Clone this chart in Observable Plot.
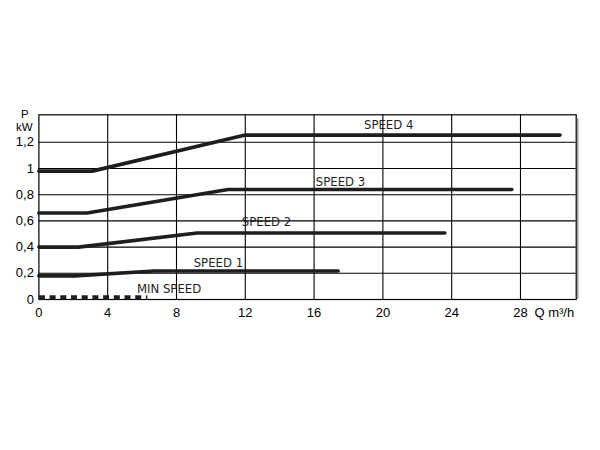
<!DOCTYPE html>
<html>
<head>
<meta charset="utf-8">
<script src="https://cdn.jsdelivr.net/npm/d3@7"></script>
<script src="https://cdn.jsdelivr.net/npm/@observablehq/plot@0.6"></script>
<style>
  html, body { margin: 0; padding: 0; background: white; }
</style>
</head>
<body>
<div id="chart"></div>
<script>
// Data
const Q_TICKS = [0, 4, 8, 12, 16, 20, 24, 28];
const P_TICKS = [0, 0.2, 0.4, 0.6, 0.8, 1.0, 1.2];
const P_TICK_LABELS = ["0", "0,2", "0,4", "0,6", "0,8", "1", "1,2"];

const speed4Q = [0, 3.1, 12.0, 30.3];
const speed4P = [0.98, 0.98, 1.255, 1.255];
const speed3Q = [0, 2.8, 11.0, 27.5];
const speed3P = [0.66, 0.66, 0.84, 0.84];
const speed2Q = [0, 2.3, 9.2, 23.6];
const speed2P = [0.40, 0.40, 0.508, 0.508];
const speed1Q = [0, 2.1, 6.7, 17.4];
const speed1P = [0.18, 0.18, 0.218, 0.218];
const minSpeedQ = [0, 6.3];
const minSpeedP = [0.016, 0.016];

const labelNames = ["SPEED 4", "SPEED 3", "SPEED 2", "SPEED 1", "MIN SPEED"];
const labelQ = [18.9, 16.1, 11.8, 9.0, 5.7];
const labelP = [1.33, 0.90, 0.59, 0.28, 0.085];

const series = [
  ["SPEED 4", speed4Q, speed4P],
  ["SPEED 3", speed3Q, speed3P],
  ["SPEED 2", speed2Q, speed2P],
  ["SPEED 1", speed1Q, speed1P]
];
const rows = series.flatMap(([name, qs, ps]) => qs.map((q, i) => ({series: name, q, p: ps[i]})));
const minRows = minSpeedQ.map((q, i) => ({q, p: minSpeedP[i]}));
const labels = labelNames.map((t, i) => ({t, q: labelQ[i], p: labelP[i]}));

const labelFont = "'Liberation Sans Narrow', 'DejaVu Sans Condensed', 'Liberation Sans', sans-serif";

const chart = Plot.plot({
  width: 600,
  height: 450,
  marginLeft: 38.4,
  marginRight: 24.3,
  marginTop: 114.3,
  marginBottom: 151,
  style: {fontFamily: "'Liberation Sans', Arial, sans-serif", fontSize: "13px", background: "white", color: "black"},
  x: {domain: [0, 31.24]},
  y: {domain: [0, 1.41]},
  marks: [
    Plot.ruleX(Q_TICKS.slice(1), {stroke: "black", strokeWidth: 1.1}),
    Plot.ruleY(P_TICKS.slice(1), {stroke: "black", strokeWidth: 1.1}),
    Plot.ruleX([31.24], {y1: 0, y2: 1.41, stroke: "#999", strokeWidth: 1.5, dx: 1.5, insetBottom: -4}),
    Plot.frame({stroke: "black", strokeWidth: 1.2}),
    Plot.line(rows, {x: "q", y: "p", z: "series", stroke: "#1e1e1e", strokeWidth: 3.6, strokeLinejoin: "round"}),
    Plot.line(minRows, {x: "q", y: "p", stroke: "#1e1e1e", strokeWidth: 4.5, strokeDasharray: "6,4.7", strokeLinecap: "butt"}),
    Plot.text(labels, {x: "q", y: "p", text: "t", textAnchor: "start", fontSize: 13, fontFamily: labelFont, fill: "#1e1e1e"}),
    Plot.axisX({ticks: Q_TICKS, tickSize: 0, tickPadding: 8, label: null, tickFormat: d => String(d)}),
    Plot.axisY({ticks: P_TICKS, tickSize: 0, tickPadding: 5, label: null, tickFormat: d => P_TICK_LABELS[P_TICKS.indexOf(d)]}),
    Plot.text(["Q m³/h"], {x: () => 28, y: () => 0, text: d => d, textAnchor: "start", dx: 14, dy: 13}),
    Plot.text(["P"], {frameAnchor: "top-left", text: d => d, textAnchor: "middle", lineAnchor: "middle", fontSize: 11.5, dx: -14, dy: -0.5}),
    Plot.text(["kW"], {frameAnchor: "top-left", text: d => d, textAnchor: "middle", lineAnchor: "middle", fontSize: 11.5, dx: -14.5, dy: 13})
  ]
});
document.getElementById("chart").appendChild(chart);
</script>
</body>
</html>
